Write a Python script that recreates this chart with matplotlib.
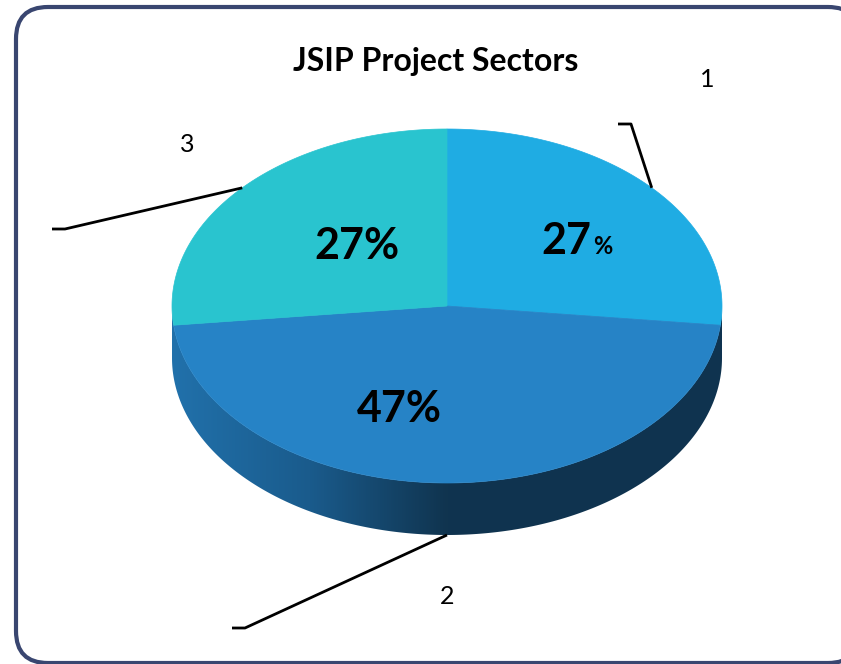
import numpy as np
import matplotlib.pyplot as plt
from matplotlib.patches import Polygon, FancyBboxPatch
from matplotlib.colors import LinearSegmentedColormap

title = "JSIP Project Sectors"
sectors = ["1", "2", "3"]
shares = [27, 47, 27]
colors = ["#1FACE3", "#2683C6", "#29C4CF"]

font = "Lato"

W, H = 841, 664
fig = plt.figure(figsize=(W / 100, H / 100), dpi=100)
ax = fig.add_axes([0, 0, 1, 1])
ax.set_xlim(0, W)
ax.set_ylim(H, 0)
ax.axis("off")

# rounded frame
frame = FancyBboxPatch((16, 7), 860 - 16, 663 - 7, boxstyle="round,pad=0,rounding_size=32",
                       ec="#394670", lw=3, fc="white", zorder=0)
ax.add_patch(frame)

# pie geometry (pixels)
cx, cy, a, b, depth = 447, 306, 275, 177, 52


def pt(theta, dy=0.0):
    t = np.radians(theta)
    return cx + a * np.cos(t), cy - b * np.sin(t) + dy


# side wall of the front half with gradient
th = np.linspace(0, -180, 300)
xt, yt = pt(th)
xb, yb = pt(th[::-1], depth)
side = Polygon(np.column_stack([np.r_[xt, xb], np.r_[yt, yb]]), closed=True,
               fc="none", ec="none")
ax.add_patch(side)
cmap = LinearSegmentedColormap.from_list(
    "side", [(0, "#2171AB"), (0.25, "#1A5B8C"), (0.5, "#10344F"), (1.0, "#0F3350")])
grad = np.linspace(0, 1, 256).reshape(1, -1)
img = ax.imshow(grad, cmap=cmap, extent=(cx - a, cx + a, cy + b + depth, cy - 10),
                aspect="auto", zorder=1)
img.set_clip_path(side)

# top face wedges
total = sum(shares)
start = 90.0
mids = []
for v, c in zip(shares, colors):
    span = 360.0 * v / total
    ang = np.linspace(start, start - span, 200)
    x, y = pt(ang)
    wedge = Polygon(np.column_stack([np.r_[cx, x], np.r_[cy, y]]), closed=True,
                    fc=c, ec=c, lw=0.5, zorder=2)
    ax.add_patch(wedge)
    mids.append(start - span / 2)
    start -= span

ax.text(436, 71, title, ha="center", va="baseline", fontsize=23, fontweight="bold",
        family=font)

# percentage labels
offsets = [(19, 13), (-48, 19), (23, 18)]
for i, (v, m) in enumerate(zip(shares, mids)):
    x, y = pt(m)
    lx = cx + 0.55 * (x - cx) + offsets[i][0]
    ly = cy + 0.55 * (y - cy) + offsets[i][1]
    if i == 0:
        ax.text(lx + 13, ly, f"{v}", ha="right", va="baseline", fontsize=31,
                fontweight="bold", family=font, zorder=3)
        ax.text(lx + 15, ly, "%", ha="left", va="baseline", fontsize=17,
                fontweight="bold", family=font, zorder=3)
    else:
        ax.text(lx, ly, f"{v}%", ha="center", va="baseline", fontsize=31,
                fontweight="bold", family=font, zorder=3)

# leader lines and sector names
elbows = [(631, 124), (245, 628), (65, 229)]
ends = [(618, 124), (232, 628), (52, 229)]
name_pos = [(707, 87), (447, 604), (187, 152)]
for i, m in enumerate(mids):
    dy = depth if np.sin(np.radians(m)) < 0 else 0
    x0, y0 = pt(m, dy)
    ax.plot([x0, elbows[i][0], ends[i][0]], [y0, elbows[i][1], ends[i][1]],
            color="black", lw=2, zorder=4, solid_capstyle="butt")
    ax.text(name_pos[i][0], name_pos[i][1], sectors[i], ha="center", va="baseline",
            fontsize=18, family=font)

fig.savefig("out.png", dpi=100)
